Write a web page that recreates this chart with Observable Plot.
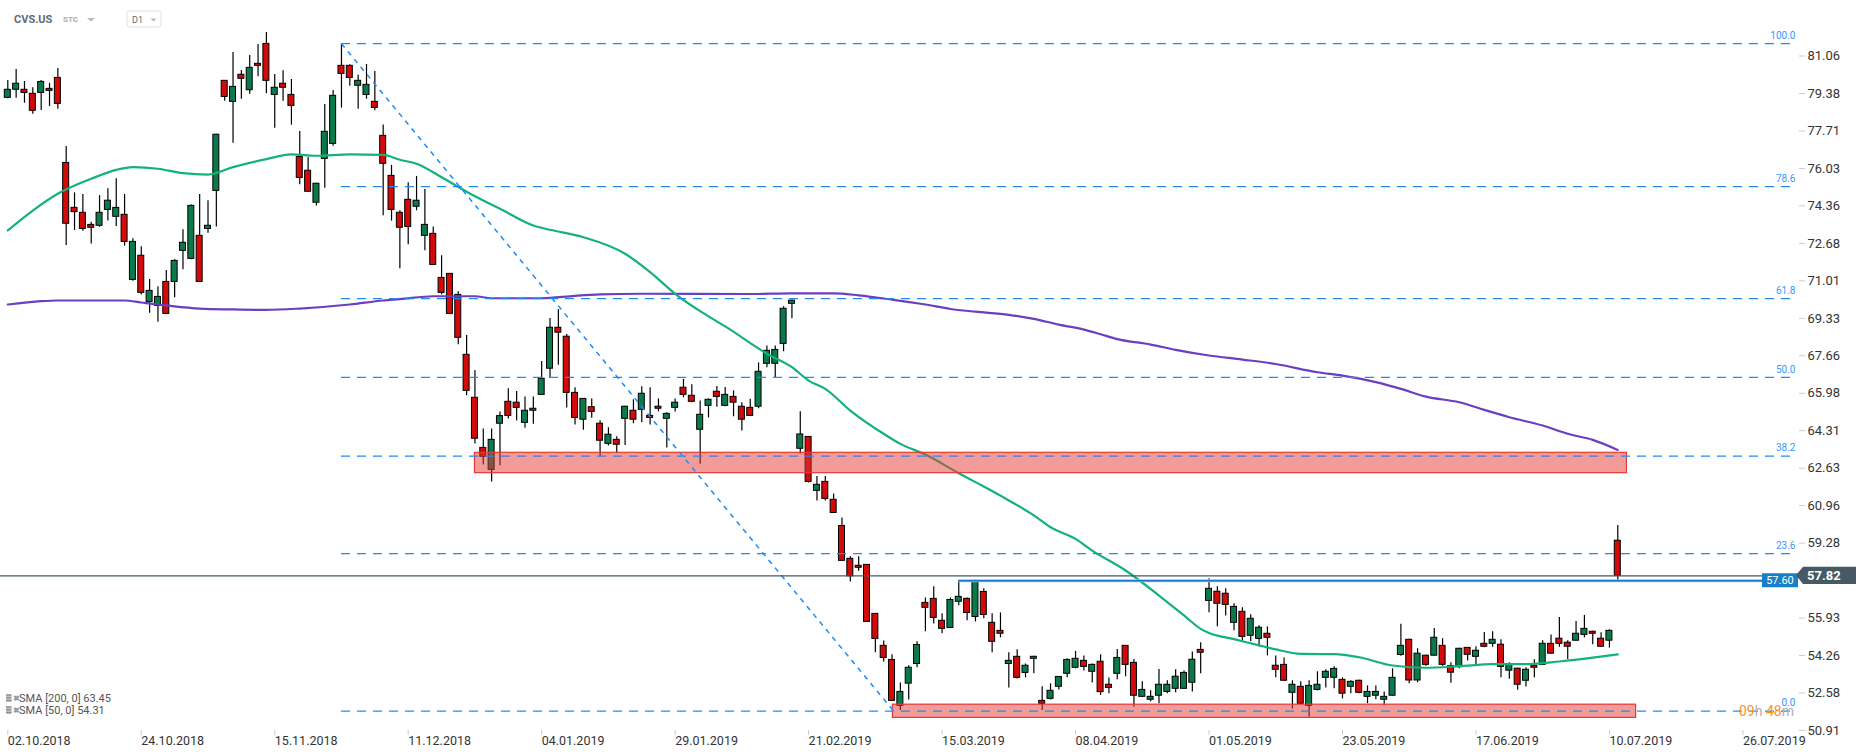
<!DOCTYPE html>
<html><head><meta charset="utf-8">
<script src="https://cdn.jsdelivr.net/npm/d3@7"></script>
<script src="https://cdn.jsdelivr.net/npm/@observablehq/plot@0.6"></script>
<style>html,body{margin:0;padding:0;background:#fff;} #chart svg{display:block;}</style>
</head><body><div id="chart"></div>
<script>
// ---- data (daily candles, index 0 = 02.10.2018) ----
const openP = [
79.19,79.55,79.55,79.37,79.41,79.59,80.08,76.28,74.27,74.05,
73.51,73.47,74.18,73.87,73.96,71.05,72.13,70.06,69.89,70.96,
70.96,72.35,71.99,73.02,73.33,75.03,79.95,79.01,80.22,79.53,
80.71,81.60,79.32,79.82,79.32,76.55,75.93,74.50,76.46,77.13,
80.62,80.62,79.73,79.32,79.01,77.49,75.70,74.05,74.63,74.32,
73.02,73.11,71.14,71.32,70.38,67.70,65.78,63.54,62.56,64.62,
65.60,65.56,64.66,65.20,65.91,67.08,68.91,68.51,66.00,64.80,
65.36,64.62,63.72,63.90,64.84,65.20,65.24,64.97,65.38,64.84,
65.33,66.23,65.87,64.35,65.42,66.05,65.42,65.82,65.38,65.33,
65.38,67.30,67.30,68.19,69.98,63.50,64.03,61.62,62.02,61.22,
60.05,58.58,58.27,58.31,56.12,54.69,54.06,52.01,53.00,53.88,
56.61,56.79,55.81,55.49,56.66,56.79,55.98,57.10,55.72,55.36,
53.88,54.20,53.48,54.11,52.23,52.32,52.86,53.44,53.71,54.02,
53.53,53.98,52.95,53.44,54.69,53.93,52.41,52.28,52.46,52.63,
52.77,52.77,53.04,54.51,56.70,57.11,57.02,55.72,56.21,55.14,
55.00,55.23,53.80,53.84,52.59,52.86,52.01,52.72,53.26,53.26,
53.17,52.86,53.13,52.41,52.46,52.28,52.46,54.28,54.96,53.14,
54.25,54.25,54.69,53.78,53.74,54.60,54.20,54.78,54.78,54.74,
53.58,53.67,53.13,53.80,53.84,54.78,55.01,54.83,54.92,55.18,
55.32,55.01,54.92,59.39];
const highP = [
79.96,80.46,79.92,79.64,79.96,79.84,80.50,77.01,74.94,74.87,
73.63,74.82,75.12,75.57,74.87,72.89,72.53,71.07,70.74,71.47,
71.95,73.29,74.40,74.87,74.59,77.56,79.97,81.22,80.41,81.08,
81.57,82.11,80.23,80.40,80.01,77.68,76.52,75.37,78.89,79.52,
81.60,80.67,80.20,80.68,80.37,77.98,76.17,74.14,75.39,75.67,
75.09,73.42,72.13,71.34,70.52,68.57,67.00,64.39,64.39,65.15,
66.18,66.06,65.82,65.82,67.40,69.33,69.73,68.61,66.23,65.75,
65.73,64.75,64.44,64.04,65.40,65.69,66.27,66.23,65.73,65.11,
65.73,66.60,66.36,65.64,65.73,66.29,66.24,66.09,65.56,65.72,
67.34,68.10,68.10,69.85,70.16,65.16,64.05,62.26,62.26,61.48,
60.41,58.67,58.67,58.33,56.14,54.91,54.29,53.03,53.80,54.87,
56.83,57.33,56.12,56.83,57.60,56.83,57.62,57.24,56.12,56.16,
54.38,54.51,53.88,54.22,52.86,52.99,53.32,54.11,54.44,54.24,
53.88,54.29,53.25,54.53,54.71,54.08,53.08,52.68,53.63,53.13,
53.62,53.57,54.42,54.83,57.69,57.33,57.24,56.57,56.39,56.08,
55.59,55.54,54.24,54.15,53.13,53.08,53.13,53.53,53.62,53.75,
53.26,53.13,53.15,52.90,52.90,52.63,53.66,55.65,54.98,54.56,
54.27,55.47,55.01,53.93,54.58,54.62,54.65,55.29,55.32,54.96,
53.93,53.69,53.71,54.07,54.92,55.18,55.96,54.92,55.78,56.05,
55.34,55.27,55.41,60.07];
const lowP = [
79.15,79.17,78.95,78.46,78.62,78.80,78.68,72.59,73.26,73.23,
72.65,73.40,73.68,73.44,72.56,70.99,70.38,69.56,69.16,69.50,
70.25,71.50,71.95,70.94,73.14,73.41,79.04,77.16,79.13,79.35,
80.13,79.37,77.83,79.04,77.97,75.30,74.97,74.35,75.15,77.03,
78.73,79.71,78.68,79.13,78.61,73.92,73.68,71.55,72.62,74.14,
72.35,71.70,70.38,69.51,68.15,65.87,63.71,62.77,62.01,62.74,
64.83,64.74,64.42,64.60,65.89,66.69,67.24,65.32,64.56,64.33,
64.87,63.14,63.63,63.28,63.65,64.62,64.66,64.56,65.15,63.54,
65.15,65.78,65.56,62.81,64.88,65.36,65.38,64.93,64.30,64.95,
65.29,67.12,66.67,67.84,69.31,63.27,61.97,61.17,61.17,60.61,
58.47,57.54,58.03,55.74,54.38,53.97,52.21,51.80,52.27,53.71,
55.32,55.67,55.23,55.47,56.48,55.81,55.76,55.90,54.38,55.05,
52.81,53.21,53.26,53.44,51.80,52.27,52.72,53.26,53.66,53.57,
53.03,52.47,52.55,53.17,53.31,51.95,52.39,52.19,52.10,52.55,
52.59,52.75,52.63,53.44,56.17,55.54,56.03,55.36,54.91,54.87,
54.65,54.24,53.26,53.11,51.87,52.08,51.50,52.68,52.81,52.77,
52.32,52.55,52.55,52.10,52.28,52.01,52.44,54.23,52.99,53.04,
53.78,54.23,53.78,53.02,53.67,54.01,53.84,54.60,54.63,53.26,
53.20,52.71,52.85,53.26,53.82,54.32,54.63,54.08,54.90,55.05,
54.74,54.63,54.59,57.54];
const closeP = [
79.55,79.82,79.41,78.61,79.90,79.50,78.92,73.56,74.08,73.33,
73.38,74.05,74.59,74.27,72.75,72.75,70.47,70.56,70.29,69.53,
71.90,72.71,74.36,70.96,73.47,77.54,79.23,79.68,80.04,80.53,
80.62,79.95,79.64,79.64,78.83,75.61,74.99,75.35,77.67,79.28,
80.26,80.08,79.95,79.77,78.74,76.24,74.18,73.38,73.42,74.59,
73.51,71.72,70.47,69.53,68.46,66.09,63.95,63.14,63.90,64.96,
64.97,65.33,65.20,65.29,66.63,68.91,68.69,66.00,64.88,65.73,
65.15,63.86,64.13,63.68,65.38,64.80,65.96,64.88,65.29,65.06,
65.56,65.91,65.60,65.02,65.69,65.82,65.91,65.56,64.80,64.97,
66.94,67.88,67.92,69.76,70.12,64.14,62.02,61.89,61.26,60.63,
58.49,57.80,58.18,55.76,55.00,54.15,52.23,52.63,53.71,54.73,
56.39,55.94,55.45,56.74,56.88,56.16,57.55,56.07,54.87,55.23,
54.02,53.26,53.80,54.20,52.10,52.68,53.30,54.06,54.11,53.75,
53.84,52.62,52.81,54.15,53.84,52.46,52.72,52.41,52.95,52.95,
53.31,53.48,54.07,54.38,57.24,56.57,56.52,56.43,55.09,55.90,
55.50,55.05,53.62,53.13,52.95,52.10,52.90,52.95,53.53,53.66,
52.55,53.08,52.59,52.63,52.63,52.41,53.26,54.69,53.14,54.34,
53.84,55.05,53.84,53.49,54.56,54.29,54.47,54.65,54.96,53.75,
53.84,52.95,53.62,53.71,54.78,54.34,54.78,54.65,55.23,55.45,
55.23,54.65,55.36,57.82];

const sma50Idx = [0,3,6,10,13,15,18,21,24,27,31,34,37,41,45,47,49,52,56,59,63,65,69,74,77,80,84,86,91,94,96,98,101,105,107,110,114,116,120,123,125,128,130,134,138,141,143,144,147,150,152,155,159,162,166,170,174,178,182,186,190,193];
const sma50Val = [73.26,74.15,74.90,75.57,75.97,76.09,76.02,75.82,75.76,76.09,76.45,76.66,76.60,76.66,76.64,76.42,76.24,75.64,74.79,74.23,73.48,73.29,72.96,72.22,71.40,70.43,69.42,68.97,67.75,67.15,66.55,66.18,65.21,64.17,63.72,63.24,62.41,62.01,61.19,60.52,59.99,59.47,58.95,58.06,56.94,56.05,55.45,55.26,54.99,54.71,54.53,54.33,54.32,54.18,53.81,53.71,53.78,53.87,53.87,53.99,54.16,54.31];
const sma200Idx = [0,4,6,14,16,19,23,27,31,35,41,45,47,51,56,58,64,68,71,76,89,94,99,102,106,110,113,116,120,123,126,129,131,133,137,140,144,148,152,157,160,164,167,170,174,177,180,184,187,190,193];
const sma200Val = [69.95,70.10,70.13,70.13,70.04,69.91,69.77,69.73,69.71,69.77,69.95,70.13,70.19,70.32,70.32,70.23,70.23,70.34,70.40,70.43,70.42,70.45,70.45,70.36,70.17,69.95,69.75,69.63,69.49,69.31,69.05,68.83,68.62,68.40,68.16,67.92,67.67,67.49,67.29,66.92,66.77,66.48,66.18,65.83,65.58,65.24,64.91,64.54,64.17,63.90,63.45];

const xTickIdx = [0,16,32,48,64,80,96,112,128,144,160,176,192,208];
const xTickLabels = ["02.10.2018","24.10.2018","15.11.2018","11.12.2018","04.01.2019","29.01.2019","21.02.2019","15.03.2019","08.04.2019","01.05.2019","23.05.2019","17.06.2019","10.07.2019","26.07.2019"];
const yTicks = [81.06,79.38,77.71,76.03,74.36,72.68,71.01,69.33,67.66,65.98,64.31,62.63,60.96,59.28,55.93,54.26,52.58,50.91];

const fibLevels = [100.0,78.6,61.8,50.0,38.2,23.6,0.0];
const fibHigh = 81.61, fibLow = 51.77, fibStartIdx = 40, fibEndIdx = 106.2;
const zoneX1 = [56.0, 106.1], zoneX2 = [194.1, 195.2], zoneTop = [63.32, 52.06], zoneBottom = [62.41, 51.47];
const lastPrice = 57.82, levelPrice = 57.60, levelStartIdx = 114;
const legendNames = ["SMA [200, 0]", "SMA [50, 0]"];
const legendValues = [63.45, 54.31];

// ---- build tables ----
const candles = openP.map((o, i) => ({i, o, h: highP[i], l: lowP[i], c: closeP[i]}));
const sma50 = sma50Idx.map((i, k) => ({i, v: sma50Val[k]}));
const sma200 = sma200Idx.map((i, k) => ({i, v: sma200Val[k]}));
const zones = zoneX1.map((x1, k) => ({x1, x2: zoneX2[k], y1: zoneTop[k], y2: zoneBottom[k]}));
const fibY = p => fibLow + p / 100 * (fibHigh - fibLow);

const GREEN = "#0b7a4b", RED = "#d20a0a", FIB = "#1a8cff";
const RIGHT_IDX = 214.5;

const chart = Plot.plot({
  width: 1866, height: 756,
  marginTop: 0, marginLeft: 0, marginRight: 68, marginBottom: 26,
  style: {fontFamily: "Roboto, 'Liberation Sans', sans-serif", background: "#fff", overflow: "visible"},
  x: {type: "linear", domain: [0, 208], range: [7.3, 1742.4]},
  y: {type: "linear", domain: [50.91, 81.06], range: [729.9, 55.5]},
  marks: [
    Plot.ruleX(candles, {x: "i", y1: "l", y2: "h", stroke: "#000", strokeWidth: 1.2}),
    Plot.rect(candles, {x1: d => d.i - 0.36, x2: d => d.i + 0.36, y1: "o", y2: "c",
      fill: d => d.c >= d.o ? GREEN : RED, stroke: "#000", strokeWidth: 1}),
    Plot.line(sma200, {x: "i", y: "v", stroke: "#6a3fc0", strokeWidth: 2.2, curve: "monotone-x"}),
    Plot.line(sma50, {x: "i", y: "v", stroke: "#14b27b", strokeWidth: 2.2, curve: "monotone-x"}),
    Plot.rect(zones, {x1: "x1", x2: "x2", y1: "y1", y2: "y2", fill: "#e53935", fillOpacity: 0.5, stroke: "#e53935", strokeWidth: 1.2}),
    Plot.ruleY(fibLevels, {y: fibY, x1: fibStartIdx, x2: RIGHT_IDX, stroke: FIB, strokeWidth: 1.2, strokeDasharray: "9,7"}),
    Plot.text(fibLevels, {y: fibY, x: 214.3, text: p => p.toFixed(1), textAnchor: "end", dy: -8, fill: "#3399ff", fontSize: 10}),
    Plot.link([0], {x1: fibStartIdx, y1: fibHigh, x2: fibEndIdx, y2: fibLow, stroke: FIB, strokeWidth: 1.5, strokeDasharray: "5,5"}),
    Plot.ruleY([lastPrice], {x1: -2, x2: RIGHT_IDX, stroke: "#455a64", strokeWidth: 1.2}),
    Plot.ruleY([levelPrice], {x1: levelStartIdx, x2: RIGHT_IDX, stroke: "#8cc6ee", strokeWidth: 3.2}),
    Plot.ruleY([levelPrice], {x1: levelStartIdx, x2: RIGHT_IDX, stroke: "#1976c8", strokeWidth: 1.3}),
    Plot.axisY(yTicks, {anchor: "right", tickSize: 6, tickPadding: 3, tickFormat: d => d.toFixed(2), fontSize: 13, stroke: "#c8cdd1", fill: "#333", label: null}),
    Plot.axisX(xTickIdx, {anchor: "bottom", tickSize: 5, tickPadding: 1, tickFormat: (d) => xTickLabels[xTickIdx.indexOf(d)], textAnchor: "start", fontSize: 12.5, stroke: "#c8cdd1", fill: "#333", label: null})
  ]
});
document.getElementById("chart").appendChild(chart);

// ---- overlays (price tags, header, legend) ----
const svg = d3.select(chart);
const ov = svg.append("g").attr("text-anchor", "start").attr("font-family", "Roboto, 'Liberation Sans', sans-serif");
const ys = chart.scale("y");
const yl = ys.apply(lastPrice), yb = ys.apply(levelPrice);
ov.append("rect").attr("x", 1762).attr("y", yb - 7).attr("width", 36).attr("height", 14).attr("fill", "#1a7fc4");
ov.append("text").attr("x", 1780).attr("y", yb).attr("dy", "0.35em").attr("text-anchor", "middle")
  .attr("fill", "#fff").attr("font-size", 11).text(levelPrice.toFixed(2));
ov.append("path").attr("d", `M1796,${yl} L1803,${yl-8.7} L1856,${yl-8.7} L1856,${yl+8.7} L1803,${yl+8.7} Z`).attr("fill", "#455a64");
ov.append("text").attr("x", 1807).attr("y", yl).attr("dy", "0.36em").attr("fill", "#fff")
  .attr("font-size", 13).attr("font-weight", "bold").text(lastPrice.toFixed(2));

// countdown
const cd = ov.append("text").attr("x", 1739).attr("y", ys.apply(fibLow)).attr("dy", "0.36em").attr("font-size", 14);
cd.append("tspan").attr("fill", "#f7931e").text("09");
cd.append("tspan").attr("fill", "#b0b0b0").text("h ");
cd.append("tspan").attr("fill", "#f7931e").text("48");
cd.append("tspan").attr("fill", "#b0b0b0").text("m");

// header
ov.append("text").attr("x", 14).attr("y", 19).attr("dy", "0.35em").attr("font-size", 11).attr("font-weight", "bold").attr("fill", "#5f6b76").text("CVS.US");
ov.append("text").attr("x", 63).attr("y", 19).attr("dy", "0.35em").attr("font-size", 8).attr("font-weight", "bold").attr("fill", "#a3abb3").text("STC");
ov.append("path").attr("d", "M87,18 L95,18 L91,21.5 Z").attr("fill", "#b3bac1");
ov.append("rect").attr("x", 127).attr("y", 11).attr("width", 34).attr("height", 16).attr("rx", 2).attr("fill", "#fff").attr("stroke", "#dde1e4");
ov.append("text").attr("x", 132).attr("y", 19.5).attr("dy", "0.35em").attr("font-size", 9).attr("fill", "#5f6b76").text("D1");
ov.append("path").attr("d", "M150.5,18.5 L156.5,18.5 L153.5,21.5 Z").attr("fill", "#b3bac1");

// legend
legendNames.forEach((n, k) => {
  const yy = 698 + k * 12;
  const g = ov.append("g");
  g.append("rect").attr("x", 6).attr("y", yy - 4).attr("width", 5.5).attr("height", 8).attr("fill", "#c4c4c4");
  for (let r = 0; r < 3; r++) g.append("rect").attr("x", 6).attr("y", yy - 3.5 + r * 2.7).attr("width", 5.5).attr("height", 1.2).attr("fill", "#8e8e8e");
  ov.append("text").attr("x", 12.5).attr("y", yy).attr("dy", "0.35em").attr("font-size", 8).attr("font-weight", "bold").attr("fill", "#9a9a9a").text("✖");
  ov.append("text").attr("x", 19).attr("y", yy).attr("dy", "0.35em").attr("font-size", 11).attr("fill", "#555").text(`${n} ${legendValues[k].toFixed(2)}`);
});
</script></body></html>
